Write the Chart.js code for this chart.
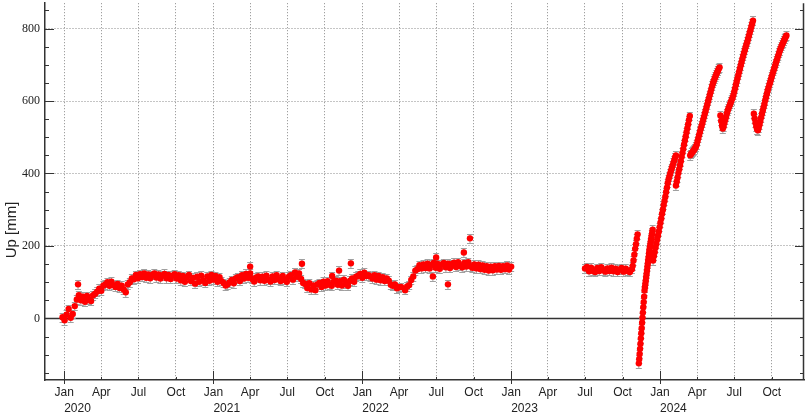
<!DOCTYPE html>
<html>
<head>
<meta charset="utf-8">
<title>Up component</title>
<script src="https://cdn.jsdelivr.net/npm/chart.js@4.4.0/dist/chart.umd.min.js"></script>
<style>
  html, body { margin: 0; padding: 0; background: #fff; }
  #chart-container { width: 808px; height: 418px; position: relative; }
</style>
</head>
<body>
<div id="chart-container"><canvas id="myChart"></canvas></div>
<script>
// vertical (Up) position time series, mm
// each run of solutions: start date, spacing in days, values

const run1Start = '2019-12-28', run1Step = 5
const run1Up = [
  3, -5, 10, 26, 2, 12, 34, 52, 64, 50,
  60, 46, 62, 52, 48, 64, 68, 74, 82, 76,
  90, 94, 100, 90, 101, 92, 87, 95, 84, 90,
  80, 72, 94, 100, 110, 108, 120, 111, 122, 114,
  124, 112, 121, 111, 120, 124, 113, 121, 110, 119,
  123, 111, 120, 109, 118, 122, 110, 119, 105, 117,
  101, 114, 120, 103, 112, 96, 115, 101, 118, 105,
  98, 116, 104, 120, 107, 117, 101, 114, 103, 98,
  91, 94, 100, 106, 97, 111, 114, 103, 119, 110,
  123, 112, 124, 109, 102, 113, 116, 105, 115, 104,
  118, 107, 102, 116, 106, 119, 108, 103, 117, 106,
  101, 115, 119, 107, 127, 115, 124, 109, 98, 95,
  84, 97, 80, 91, 78, 94, 98, 87, 101, 91,
  103, 93, 90, 101, 104, 93, 103, 91, 107, 95,
  90, 104, 110, 101, 115, 118, 123, 112, 126, 117,
  119, 116, 110, 119, 107, 117, 105, 114, 103, 110,
  104, 93, 90, 94, 83, 86, 87, null, 78, 88,
  92, 106, 116, 132, 136, 147, 138, 149, 139, 151,
  138, 148, 153, 140, 150, 137, 149, 153, 141, 151,
  139, 150, 154, 142, 155, 145, 141, 153, 143, 155,
  144, 140, 149, 138, 148, 136, 146, 134, 144, 132,
  143, 133, 144, 135, 145, 134, 144, 136, 146, 135,
  143
]

const run2Start = '2023-07-01', run2Step = 5
const run2Up = [138, 142, 130, 140, 131, 128, 139, 131, 141, 133, 129, 138,
  131, 140, 130, 137, 128, 135, 139, 129, 137, 131, 128, 136]

const run3Start = '2023-10-26', run3Step = 2
const run3Up = [145, 160, 176, 192, 205, 220, 232]

const run4Start = '2023-11-10', run4Step = 1
const run4Up = [-124, -112, -98, -84, -70, -55, -41, -27, -12, 2, 16, 31, 45, 60, 77,
  86, 95, 104, 114, 123, 132, 142, 151, 160, 169, 179, 188,
  195, 202, 210, 217, 224, 231, 238, 245]

const run5Start = '2023-12-15', run5Step = 2
const run5Up = [160, 172, 183, 196, 206, 218, 229, 240, 252, 264, 276, 289, 300, 313, 324,
  336, 349, 361, 374, 384, 392, 400, 408, 415, 422, 430, 437, 444, 450]

const run6Start = '2024-02-09', run6Step = 2
const run6Up = [367, 378, 389, 401, 412, 423, 434, 446, 457, 468, 480, 491, 502, 514, 525, 536, 548, 559]

const run7Start = '2024-03-15', run7Step = 2
const run7Up = [450, 454, 457, 460, 463, 466, 470, 474, 480, 490, 498, 507, 515, 524, 532, 540,
  549, 557, 566, 574, 583, 591, 600, 608, 617, 625, 634, 642, 650, 656, 662, 668, 674, 679,
  684, 689, 693]

const run8Start = '2024-05-28', run8Step = 2
const run8Up = [560, 545, 532, 524, 530, 540, 549, 557, 566, 574, 580, 586, 592, 598, 604, 609,
  617, 626, 635, 645, 654, 663, 672, 681, 690, 699, 708, 717, 725, 733, 741, 749, 757, 764,
  772, 780, 789, 797, 806, 814, 822]

const run9Start = '2024-08-18', run9Step = 2
const run9Up = [565, 552, 540, 530, 522, 519, 526, 535, 545, 555, 565, 574, 583, 592, 602, 611,
  620, 629, 637, 645, 652, 660, 668, 675, 683, 690, 697, 705, 712, 719, 726, 733, 740, 746,
  752, 757, 762, 767, 772, 777, 781]

// isolated solutions away from the trend
const outlierDates = ['2020-02-04', '2021-04-01', '2021-08-06', '2021-10-19', '2021-11-05',
  '2021-12-04', '2022-06-23', '2022-07-01', '2022-07-30', '2022-09-07', '2022-09-22']
const outlierUp = [94, 143, 151, 117, 132, 152, 116, 168, 94, 182, 221]

const sigmaUp = 12   // error bar half length, mm

const tickYears = [2020, 2021, 2022, 2023, 2024]
const tickMonths = ['Jan', 'Apr', 'Jul', 'Oct']
const yTickValues = [0, 200, 400, 600, 800]

const xFirst = '2019-11-15', xLast = '2024-12-19'
const yMin = -170, yMax = 870


function dayOf(str) {
    var p = str.split('-').map(Number)
    return (Date.UTC(p[0], p[1] - 1, p[2]) - Date.UTC(2020, 0, 1)) / 86400000
}

function runPoints(start, step, values) {
    var pts = []
    var d0 = dayOf(start)
    for (var i = 0; i < values.length; i++) {
        if (values[i] !== null) pts.push({ x: d0 + i * step, y: values[i] })
    }
    return pts
}

var runs = [
    [run1Start, run1Step, run1Up], [run2Start, run2Step, run2Up], [run3Start, run3Step, run3Up],
    [run4Start, run4Step, run4Up], [run5Start, run5Step, run5Up], [run6Start, run6Step, run6Up],
    [run7Start, run7Step, run7Up], [run8Start, run8Step, run8Up], [run9Start, run9Step, run9Up]
]
var seriesPoints = []
runs.forEach(function (r) { seriesPoints = seriesPoints.concat(runPoints(r[0], r[1], r[2])) })

var outlierPoints = outlierDates.map(function (d, i) { return { x: dayOf(d), y: outlierUp[i] } })

var xTickDays = []
var xTickLabels = []
tickYears.forEach(function (yr) {
    tickMonths.forEach(function (m, k) {
        var mm = String(1 + 3 * k).padStart(2, '0')
        xTickDays.push(dayOf(yr + '-' + mm + '-01'))
        xTickLabels.push(m)
    })
})

var axisColor = '#333'
var gridColor = '#8a8a8a'

var framePlugin = {
    id: 'frame',
    beforeDatasetsDraw: function (chart) {
        var ctx = chart.ctx, a = chart.chartArea, xs = chart.scales.x, ys = chart.scales.y
        ctx.save()
        ctx.beginPath()
        ctx.rect(a.left, a.top, a.right - a.left, a.bottom - a.top)
        ctx.clip()

        // zero line
        var y0 = Math.round(ys.getPixelForValue(0)) + 0.5
        ctx.strokeStyle = axisColor
        ctx.lineWidth = 1.3
        ctx.beginPath()
        ctx.moveTo(a.left, y0)
        ctx.lineTo(a.right, y0)
        ctx.stroke()

        // error bars
        ctx.strokeStyle = '#a0a0a0'
        ctx.lineWidth = 1
        chart.data.datasets.forEach(function (ds) {
            ds.data.forEach(function (p) {
                var px = xs.getPixelForValue(p.x)
                var top = Math.round(ys.getPixelForValue(p.y + sigmaUp)) + 0.5
                var bot = Math.round(ys.getPixelForValue(p.y - sigmaUp)) + 0.5
                ctx.beginPath()
                ctx.moveTo(px, top); ctx.lineTo(px, bot)
                ctx.moveTo(px - 3, top); ctx.lineTo(px + 3, top)
                ctx.moveTo(px - 3, bot); ctx.lineTo(px + 3, bot)
                ctx.stroke()
            })
        })
        ctx.restore()
    },
    afterDraw: function (chart) {
        var ctx = chart.ctx, a = chart.chartArea, xs = chart.scales.x, ys = chart.scales.y
        ctx.save()
        ctx.strokeStyle = axisColor

        // right axis line
        ctx.lineWidth = 1.5
        ctx.beginPath()
        ctx.moveTo(a.right - 0.5, a.top)
        ctx.lineTo(a.right - 0.5, a.bottom)
        ctx.stroke()

        // inner ticks on y axes
        ctx.lineWidth = 1
        for (var v = -150; v <= 850; v += 50) {
            var py = Math.round(ys.getPixelForValue(v)) + 0.5
            var len = v % 200 === 0 ? 9 : 4
            ctx.beginPath()
            ctx.moveTo(a.left, py); ctx.lineTo(a.left + len, py)
            ctx.moveTo(a.right, py); ctx.lineTo(a.right - len, py)
            ctx.stroke()
        }

        // inner ticks on x axis, longer at new year
        xTickDays.forEach(function (d, i) {
            var px = Math.round(xs.getPixelForValue(d)) + 0.5
            ctx.beginPath()
            if (i % 4 === 0) {
                ctx.moveTo(px, a.bottom - 9); ctx.lineTo(px, a.bottom + 4)
            } else {
                ctx.moveTo(px, a.bottom - 3); ctx.lineTo(px, a.bottom)
            }
            ctx.stroke()
        })

        // year labels under the months
        ctx.fillStyle = '#222'
        ctx.font = '12px "Liberation Sans", Arial, sans-serif'
        ctx.textAlign = 'left'
        ctx.textBaseline = 'middle'
        tickYears.forEach(function (yr) {
            ctx.fillText(String(yr), xs.getPixelForValue(dayOf(yr + '-01-01')), 409)
        })

        // y axis title
        ctx.translate(12, 230)
        ctx.rotate(-Math.PI / 2)
        ctx.textAlign = 'center'
        ctx.font = '15px "Liberation Sans", Arial, sans-serif'
        ctx.fillText('Up [mm]', 0, 0)
        ctx.restore()
    }
}

var pointStyle = {
    showLine: false,
    pointRadius: 3.2,
    pointBackgroundColor: '#ff0000',
    pointBorderWidth: 0,
    pointHoverRadius: 3.2
}

const ctx = document.getElementById('myChart')
const myChart = new Chart(ctx, {
    type: 'scatter',
    data: {
        datasets: [
            Object.assign({ label: 'Up', data: seriesPoints }, pointStyle),
            Object.assign({ label: 'Up outliers', data: outlierPoints }, pointStyle)
        ]
    },
    options: {
        responsive: true,
        maintainAspectRatio: false,
        animation: false,
        events: [],
        layout: { padding: { top: 3, right: 4, left: 0, bottom: 0 } },
        scales: {
            x: {
                type: 'linear',
                min: dayOf(xFirst),
                max: dayOf(xLast),
                afterBuildTicks: function (scale) {
                    scale.ticks = xTickDays.map(function (d) { return { value: d } })
                },
                afterFit: function (scale) {
                    scale.height = 38
                    scale.paddingLeft = 0
                    scale.paddingRight = 0
                },
                grid: { color: gridColor, lineWidth: 1, drawTicks: false },
                border: { display: true, color: axisColor, width: 1.5, dash: [1, 2] },
                ticks: {
                    autoSkip: false,
                    maxRotation: 0,
                    padding: 5,
                    color: '#222',
                    font: { family: '"Liberation Sans", Arial, sans-serif', size: 12 },
                    callback: function (value, i) { return xTickLabels[i] }
                }
            },
            y: {
                min: yMin,
                max: yMax,
                afterBuildTicks: function (scale) {
                    scale.ticks = yTickValues.map(function (v) { return { value: v } })
                },
                afterFit: function (scale) {
                    scale.width = 45
                    scale.paddingTop = 0
                    scale.paddingBottom = 0
                },
                grid: {
                    lineWidth: 1,
                    drawTicks: false,
                    color: function (c) {
                        return c.tick && c.tick.value === 0 ? 'rgba(0,0,0,0)' : gridColor
                    }
                },
                border: { display: true, color: axisColor, width: 1.5, dash: [1, 2] },
                ticks: {
                    padding: 5,
                    color: '#222',
                    font: { family: '"Liberation Serif", "Times New Roman", serif', size: 12 }
                }
            }
        },
        plugins: {
            legend: { display: false },
            tooltip: { enabled: false },
            title: { display: false }
        }
    },
    plugins: [framePlugin]
})
</script>
</body>
</html>
